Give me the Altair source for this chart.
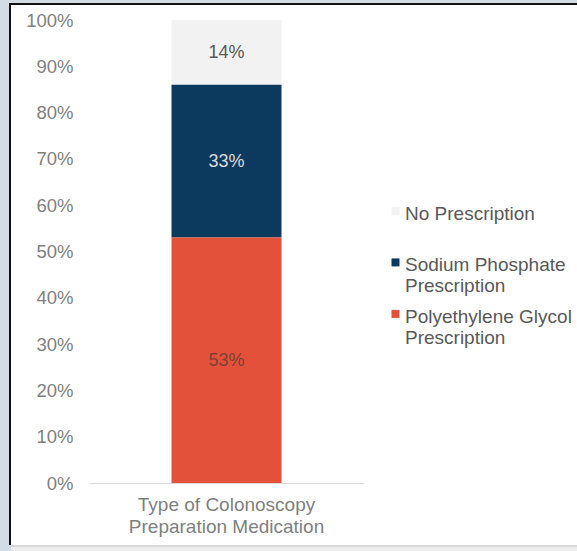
import altair as alt
import pandas as pd

# Share of patients by colonoscopy preparation prescription (percent)
category = "Type of Colonoscopy Preparation Medication"
series = ["No Prescription", "Sodium Phosphate Prescription", "Polyethylene Glycol Prescription"]
values = [14, 33, 53]
stack_rank = [2, 1, 0]  # bottom of the stack = 0

bar_colors = ["#f2f2f2", "#0c3a5f", "#e4513a"]
text_colors = ["#595959", "#dcdcdc", "#7a4236"]

FONT = "Liberation Sans"
W, H = 275, 463
PLOT_LEFT, PLOT_TOP = 89, 20
CANVAS_W, CANVAS_H = 577, 551

df = pd.DataFrame({
    "category": [category] * len(series),
    "series": series,
    "value": values,
    "rank": stack_rank,
})

base = alt.Chart(df)

color_scale = alt.Scale(domain=series, range=bar_colors)

# square legend swatch, nudged down so it lines up with the first label line
swatch = "M-1,0.6H1V2.6H-1Z"

bars = base.mark_bar(size=110).encode(
    x=alt.X("category:N", title=None,
            axis=alt.Axis(labelExpr="split(datum.label, ' Preparation').length > 1 ? ['Type of Colonoscopy', 'Preparation Medication'] : datum.label",
                          labelAngle=0, labelFont=FONT, labelFontSize=19, labelColor="#7f7f7f",
                          labelPadding=12, labelLineHeight=22, ticks=False,
                          domainColor="#d9d9d9", domainWidth=1.2, labelLimit=400, zindex=1)),
    y=alt.Y("value:Q", stack="zero", title=None,
            scale=alt.Scale(domain=[0, 100], nice=False),
            axis=alt.Axis(values=list(range(0, 101, 10)), labelExpr="datum.value + '%'",
                          labelFont=FONT, labelFontSize=18.5, labelColor="#7f7f7f",
                          labelPadding=16, domain=False, ticks=False, grid=False, zindex=1)),
    color=alt.Color("series:N", scale=color_scale,
                    legend=alt.Legend(
                        title=None, orient="none", legendX=297, legendY=175,
                        symbolType=swatch, symbolSize=64, symbolStrokeWidth=0,
                        labelFont=FONT, labelFontSize=19, labelColor="#595959",
                        labelLimit=300, labelOffset=0, rowPadding=1.5,
                        labelBaseline="top",
                        labelExpr="length(datum.label) > 16 ? [replace(datum.label, ' Prescription', ''), 'Prescription'] : [datum.label, '']",
                    )),
    order=alt.Order("rank:Q"),
)

labels = base.transform_stack(
    stack="value", groupby=["category"], as_=["y0", "y1"],
    sort=[alt.SortField("rank", order="ascending")],
).transform_calculate(
    mid="(datum.y0 + datum.y1) / 2",
    txt="datum.value + '%'",
).mark_text(font=FONT, fontSize=18, dy=1).encode(
    x=alt.X("category:N"),
    y=alt.Y("mid:Q"),
    text="txt:N",
    color=alt.Color("series:N", scale=alt.Scale(domain=series, range=text_colors), legend=None),
)

# Slide-style frame around the chart
one = alt.Data(values=[{"k": 0}])


def frame_rect(x0, y0, x1, y1, fill):
    return alt.Chart(one).mark_rect(fill=fill, strokeWidth=0).encode(
        x=alt.value(x0 - PLOT_LEFT), x2=alt.value(x1 - PLOT_LEFT),
        y=alt.value(y0 - PLOT_TOP), y2=alt.value(y1 - PLOT_TOP),
    )


frame = alt.layer(
    frame_rect(0, 0, CANVAS_W, CANVAS_H, "#d3dbe4"),
    frame_rect(9, 3, CANVAS_W, 545, "#111111"),
    frame_rect(11, 5, CANVAS_W, 545, "#ffffff"),
    frame_rect(11, 545, CANVAS_W, 547, "#d8d8d8"),
    frame_rect(11, 547, CANVAS_W, CANVAS_H, "#eeeeee"),
)

chart = alt.layer(frame, bars, labels).resolve_scale(color="independent").properties(
    width=W, height=H, padding=0,
).configure_view(stroke=None).configure(background="#ffffff")

chart.save("out.html", embed_options={"renderer": "svg", "actions": False})
